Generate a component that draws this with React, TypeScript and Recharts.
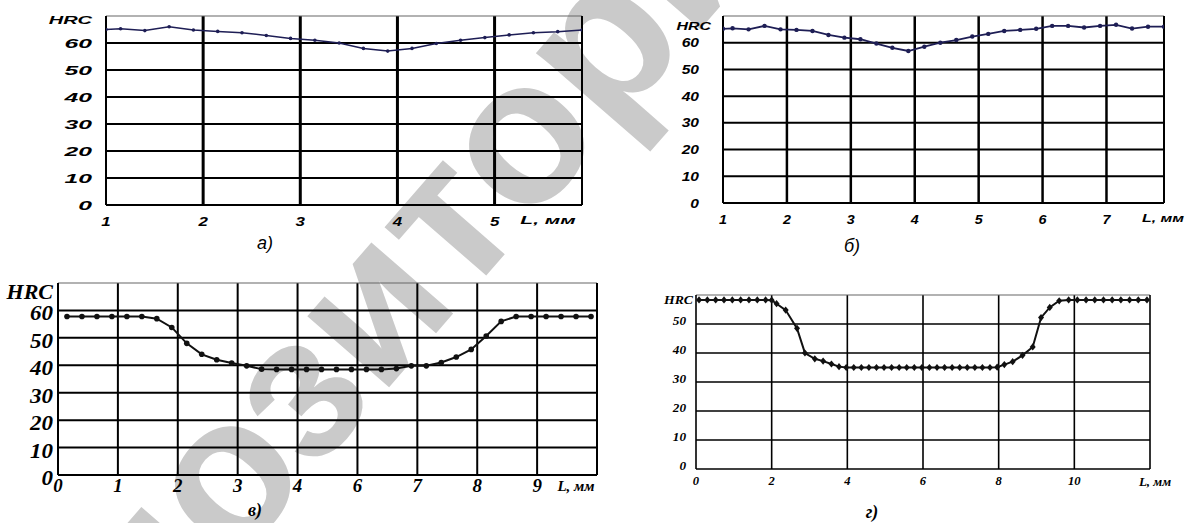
import React from 'react'
import { LineChart, Line, XAxis, YAxis, ReferenceLine } from 'recharts'

const W = 1185
const H = 523
const SANS = '"Liberation Sans", Arial, sans-serif'
const SERIF = '"Liberation Serif", "Times New Roman", serif'

// а) HRC along L, mm
const lenA = [1.0, 1.15, 1.4, 1.65, 1.9, 2.15, 2.4, 2.65, 2.9, 3.15, 3.4, 3.65, 3.9, 4.15, 4.4, 4.65, 4.9, 5.15, 5.4, 5.65, 5.9]
const hrcA = [65, 65.3, 64.6, 66, 64.8, 64.3, 63.8, 62.8, 61.7, 61, 60, 58, 57, 58, 59.8, 61, 62, 63, 63.8, 64.2, 64.8]
const xTicksA = [1, 2, 3, 4, 5]

// б)
const lenB = [1.0, 1.15, 1.4, 1.65, 1.9, 2.15, 2.4, 2.65, 2.9, 3.15, 3.4, 3.65, 3.9, 4.15, 4.4, 4.65, 4.9, 5.15, 5.4, 5.65, 5.9, 6.15, 6.4, 6.65, 6.9, 7.15, 7.4, 7.65, 7.9]
const hrcB = [65.2, 65.4, 65, 66.3, 65, 64.8, 64.4, 62.9, 61.9, 61.3, 59.7, 58.1, 56.9, 58.5, 60, 61, 62.3, 63.3, 64.4, 64.8, 65.2, 66.3, 66.3, 65.7, 66.3, 66.7, 65.3, 66, 66]
const xTicksB = [1, 2, 3, 4, 5, 6, 7]

const yTicks70 = [0, 10, 20, 30, 40, 50, 60, 70]
const yTicks60 = [0, 10, 20, 30, 40, 50, 60]

// в) axis positions; the original labels skip "5"
const lenC = [0.15, 0.4, 0.65, 0.9, 1.15, 1.4, 1.65, 1.9, 2.15, 2.4, 2.65, 2.9, 3.15, 3.4, 3.65, 3.9, 4.15, 4.4, 4.65, 4.9, 5.15, 5.4, 5.65, 5.9, 6.15, 6.4, 6.65, 6.9, 7.15, 7.4, 7.65, 7.9, 8.15, 8.4, 8.65, 8.9]
const hrcC = [57.8, 57.8, 57.8, 57.8, 57.8, 57.8, 57, 53.8, 48, 44, 42, 40.8, 39.8, 38.6, 38.5, 38.5, 38.5, 38.5, 38.5, 38.5, 38.5, 38.5, 38.8, 39.8, 39.8, 41, 43, 45.8, 50.7, 56, 57.8, 57.8, 57.8, 57.8, 57.8, 57.8]
const xTicksC = [0, 1, 2, 3, 4, 5, 6, 7, 8]
const xLabelsC = ['0', '1', '2', '3', '4', '6', '7', '8', '9']

// г)
const lenD = [0.08, 0.3, 0.52, 0.74, 0.96, 1.18, 1.4, 1.62, 1.84, 2.0, 2.13, 2.37, 2.67, 2.88, 3.14, 3.36, 3.58, 3.78, 3.97, 4.17, 4.37, 4.57, 4.77, 4.97, 5.17, 5.37, 5.57, 5.77, 5.97, 6.17, 6.37, 6.57, 6.77, 6.97, 7.17, 7.37, 7.57, 7.77, 7.96, 8.15, 8.37, 8.63, 8.9, 9.12, 9.35, 9.6, 9.85, 10.08, 10.31, 10.54, 10.77, 11.0, 11.23, 11.46, 11.69, 11.92]
const hrcD = [58.3, 58.3, 58.3, 58.3, 58.3, 58.3, 58.3, 58.3, 58.3, 58.2, 57, 54.8, 48.5, 40, 38, 37.2, 36.2, 35.3, 35, 35, 35, 35, 35, 35, 35, 35, 35, 35, 35, 35, 35, 35, 35, 35, 35, 35, 35, 35, 35.1, 36, 37, 39.2, 42.1, 52.2, 55.7, 58, 58.3, 58.3, 58.3, 58.3, 58.3, 58.3, 58.3, 58.3, 58.3, 58.3]
const xTicksD = [0, 2, 4, 6, 8, 10]

type Box = { left: number; right: number; top: number; bottom: number }

type PanelProps = {
  len: number[]
  hrc: number[]
  box: Box
  xDomain: [number, number]
  xTicks: number[]
  xLabels?: string[]
  yTop: number
  yTicks: number[]
  vGrid: number[]
  hGrid: number[]
  vW: number
  hW: number
  borderW: number
  font: string
  yFont: number
  ySx: number
  yRight: number
  yDy: number
  hrcFont: number
  hrcSx: number
  hrcRight: number
  hrcY: number
  xFont: number
  xSx: number
  xY: number
  color: string
  lineW: number
  dot: any
}

function Panel(p: PanelProps) {
  const data = p.len.map((l, i) => ({ len: l, hrc: p.hrc[i] }))
  const txt = { fontFamily: p.font, fontWeight: 700, fontStyle: 'italic' as const, fill: '#000' }

  const yTick = (t: any) => {
    const v = t.payload.value
    if (v === p.yTop) {
      return (
        <text transform={`translate(${p.hrcRight},${p.hrcY}) scale(${p.hrcSx},1)`} textAnchor="end" dy="0.35em" fontSize={p.hrcFont} {...txt}>
          HRC
        </text>
      )
    }
    return (
      <text transform={`translate(${p.yRight},${t.y + p.yDy}) scale(${p.ySx},1)`} textAnchor="end" dy="0.35em" fontSize={p.yFont} {...txt}>
        {v}
      </text>
    )
  }

  const xTick = (t: any) => {
    const v = t.payload.value
    const i = p.xTicks.indexOf(v)
    const label = p.xLabels ? p.xLabels[i] : String(v)
    return (
      <text transform={`translate(${t.x},${p.xY}) scale(${p.xSx},1)`} textAnchor="middle" dy="0.35em" fontSize={p.xFont} {...txt}>
        {label}
      </text>
    )
  }

  return (
    <div style={{ position: 'absolute', left: 0, top: 0 }}>
      <LineChart
        width={W}
        height={H}
        data={data}
        margin={{ top: p.box.top, right: W - p.box.right, bottom: H - p.box.bottom - 20, left: 0 }}
      >
        <XAxis type="number" dataKey="len" domain={p.xDomain} ticks={p.xTicks} interval={0} allowDataOverflow axisLine={false} tickLine={false} height={20} tick={xTick} />
        <YAxis type="number" domain={[0, p.yTop]} ticks={p.yTicks} interval={0} allowDataOverflow axisLine={false} tickLine={false} width={p.box.left} tick={yTick} />
        {p.hGrid.map((v) => (
          <ReferenceLine key={'h' + v} y={v} stroke="#000" strokeWidth={p.hW} />
        ))}
        {p.vGrid.map((v) => (
          <ReferenceLine key={'v' + v} x={v} stroke="#000" strokeWidth={p.vW} />
        ))}
        <ReferenceLine y={p.yTop} stroke="#666" strokeWidth={1.2} />
        <ReferenceLine y={0} stroke="#000" strokeWidth={p.borderW} />
        <ReferenceLine x={p.xDomain[0]} stroke="#000" strokeWidth={p.borderW} />
        <ReferenceLine x={p.xDomain[1]} stroke="#000" strokeWidth={p.borderW} />
        <Line type="linear" dataKey="hrc" stroke={p.color} strokeWidth={p.lineW} dot={p.dot} activeDot={false} isAnimationActive={false} />
      </LineChart>
    </div>
  )
}

const diamond = (d: any) => {
  const { cx, cy, index } = d
  return <path key={index} d={`M${cx},${cy - 3.6}L${cx + 3},${cy}L${cx},${cy + 3.6}L${cx - 3},${cy}Z`} fill="#111" />
}

export default function App() {
  const cap = (x: number, y: number, s: string, font: string, bold: boolean) => (
    <text x={x} y={y} dy="0.35em" textAnchor="middle" fontSize={18} fontFamily={font} fontStyle="italic" fontWeight={bold ? 700 : 400} fill="#000">
      {s}
    </text>
  )
  const unit = (x: number, y: number, size: number, sx: number, font: string) => (
    <text transform={`translate(${x},${y}) scale(${sx},1)`} dy="0.35em" textAnchor="middle" fontSize={size} fontFamily={font} fontStyle="italic" fontWeight={700} fill="#000">
      L, мм
    </text>
  )

  return (
    <div style={{ position: 'absolute', left: 0, top: 0, width: W, height: H, background: '#fff', overflow: 'hidden' }}>
      <svg width={W} height={H} style={{ position: 'absolute', left: 0, top: 0 }}>
        <text
          transform="translate(383,313) rotate(-49)"
          textAnchor="middle"
          dy="0.26em"
          fontSize={205}
          fontFamily={SANS}
          fontWeight={700}
          fill="#cacaca"
        >
          Репозиторий
        </text>
      </svg>

      <Panel
        len={lenA} hrc={hrcA}
        box={{ left: 106, right: 582, top: 16, bottom: 205 }}
        xDomain={[1, 5.9]} xTicks={xTicksA}
        yTop={70} yTicks={yTicks70}
        vGrid={[2, 3, 4, 5]} hGrid={[10, 20, 30, 40, 50, 60]}
        vW={3} hW={2} borderW={2}
        font={SANS}
        yFont={13} ySx={1.9} yRight={92} yDy={0}
        hrcFont={10} hrcSx={2.0} hrcRight={92} hrcY={20}
        xFont={13} xSx={1.3} xY={221}
        color="#1e1e55" lineW={1.5} dot={{ r: 1.8, fill: '#1e1e55', stroke: 'none' }}
      />
      <Panel
        len={lenB} hrc={hrcB}
        box={{ left: 723, right: 1164, top: 16, bottom: 203 }}
        xDomain={[1, 7.9]} xTicks={xTicksB}
        yTop={70} yTicks={yTicks70}
        vGrid={[2, 3, 4, 5, 6, 7]} hGrid={[10, 20, 30, 40, 50, 60]}
        vW={2.5} hW={2} borderW={2}
        font={SANS}
        yFont={13} ySx={1.2} yRight={699} yDy={0}
        hrcFont={11} hrcSx={1.45} hrcRight={711} hrcY={26}
        xFont={13} xSx={1.1} xY={219}
        color="#1e1e55" lineW={1.8} dot={{ r: 2.2, fill: '#1e1e55', stroke: 'none' }}
      />
      <Panel
        len={lenC} hrc={hrcC}
        box={{ left: 58, right: 597, top: 283, bottom: 475 }}
        xDomain={[0, 9]} xTicks={xTicksC} xLabels={xLabelsC}
        yTop={70} yTicks={yTicks70}
        vGrid={[1, 2, 3, 4, 5, 6, 7, 8]} hGrid={[10, 20, 30, 40, 50, 60]}
        vW={2} hW={2} borderW={2}
        font={SERIF}
        yFont={20} ySx={1.15} yRight={53} yDy={3}
        hrcFont={20} hrcSx={1.1} hrcRight={53} hrcY={292}
        xFont={18} xSx={1.05} xY={486}
        color="#111" lineW={2} dot={{ r: 2.8, fill: '#111', stroke: 'none' }}
      />
      <Panel
        len={lenD} hrc={hrcD}
        box={{ left: 696, right: 1150, top: 295, bottom: 469 }}
        xDomain={[0, 12]} xTicks={xTicksD}
        yTop={60} yTicks={yTicks60}
        vGrid={[2, 4, 6, 8, 10]} hGrid={[10, 20, 30, 40, 50]}
        vW={1.6} hW={1.6} borderW={1.6}
        font={SERIF}
        yFont={12} ySx={1.1} yRight={686} yDy={-3}
        hrcFont={12.5} hrcSx={1.1} hrcRight={693} hrcY={300}
        xFont={12} xSx={1.05} xY={481}
        color="#111" lineW={2} dot={diamond}
      />

      <svg width={W} height={H} style={{ position: 'absolute', left: 0, top: 0, pointerEvents: 'none' }}>
        {unit(548, 220, 11, 1.9, SANS)}
        {unit(1163, 218, 11, 1.45, SANS)}
        {unit(576, 486, 15, 1.0, SERIF)}
        {unit(1155, 481, 13, 1.0, SERIF)}
        {cap(265, 243, 'а)', SANS, false)}
        {cap(852, 246, 'б)', SANS, false)}
        {cap(255, 510, 'в)', SERIF, true)}
        {cap(872, 512, 'г)', SERIF, true)}
      </svg>
    </div>
  )
}
